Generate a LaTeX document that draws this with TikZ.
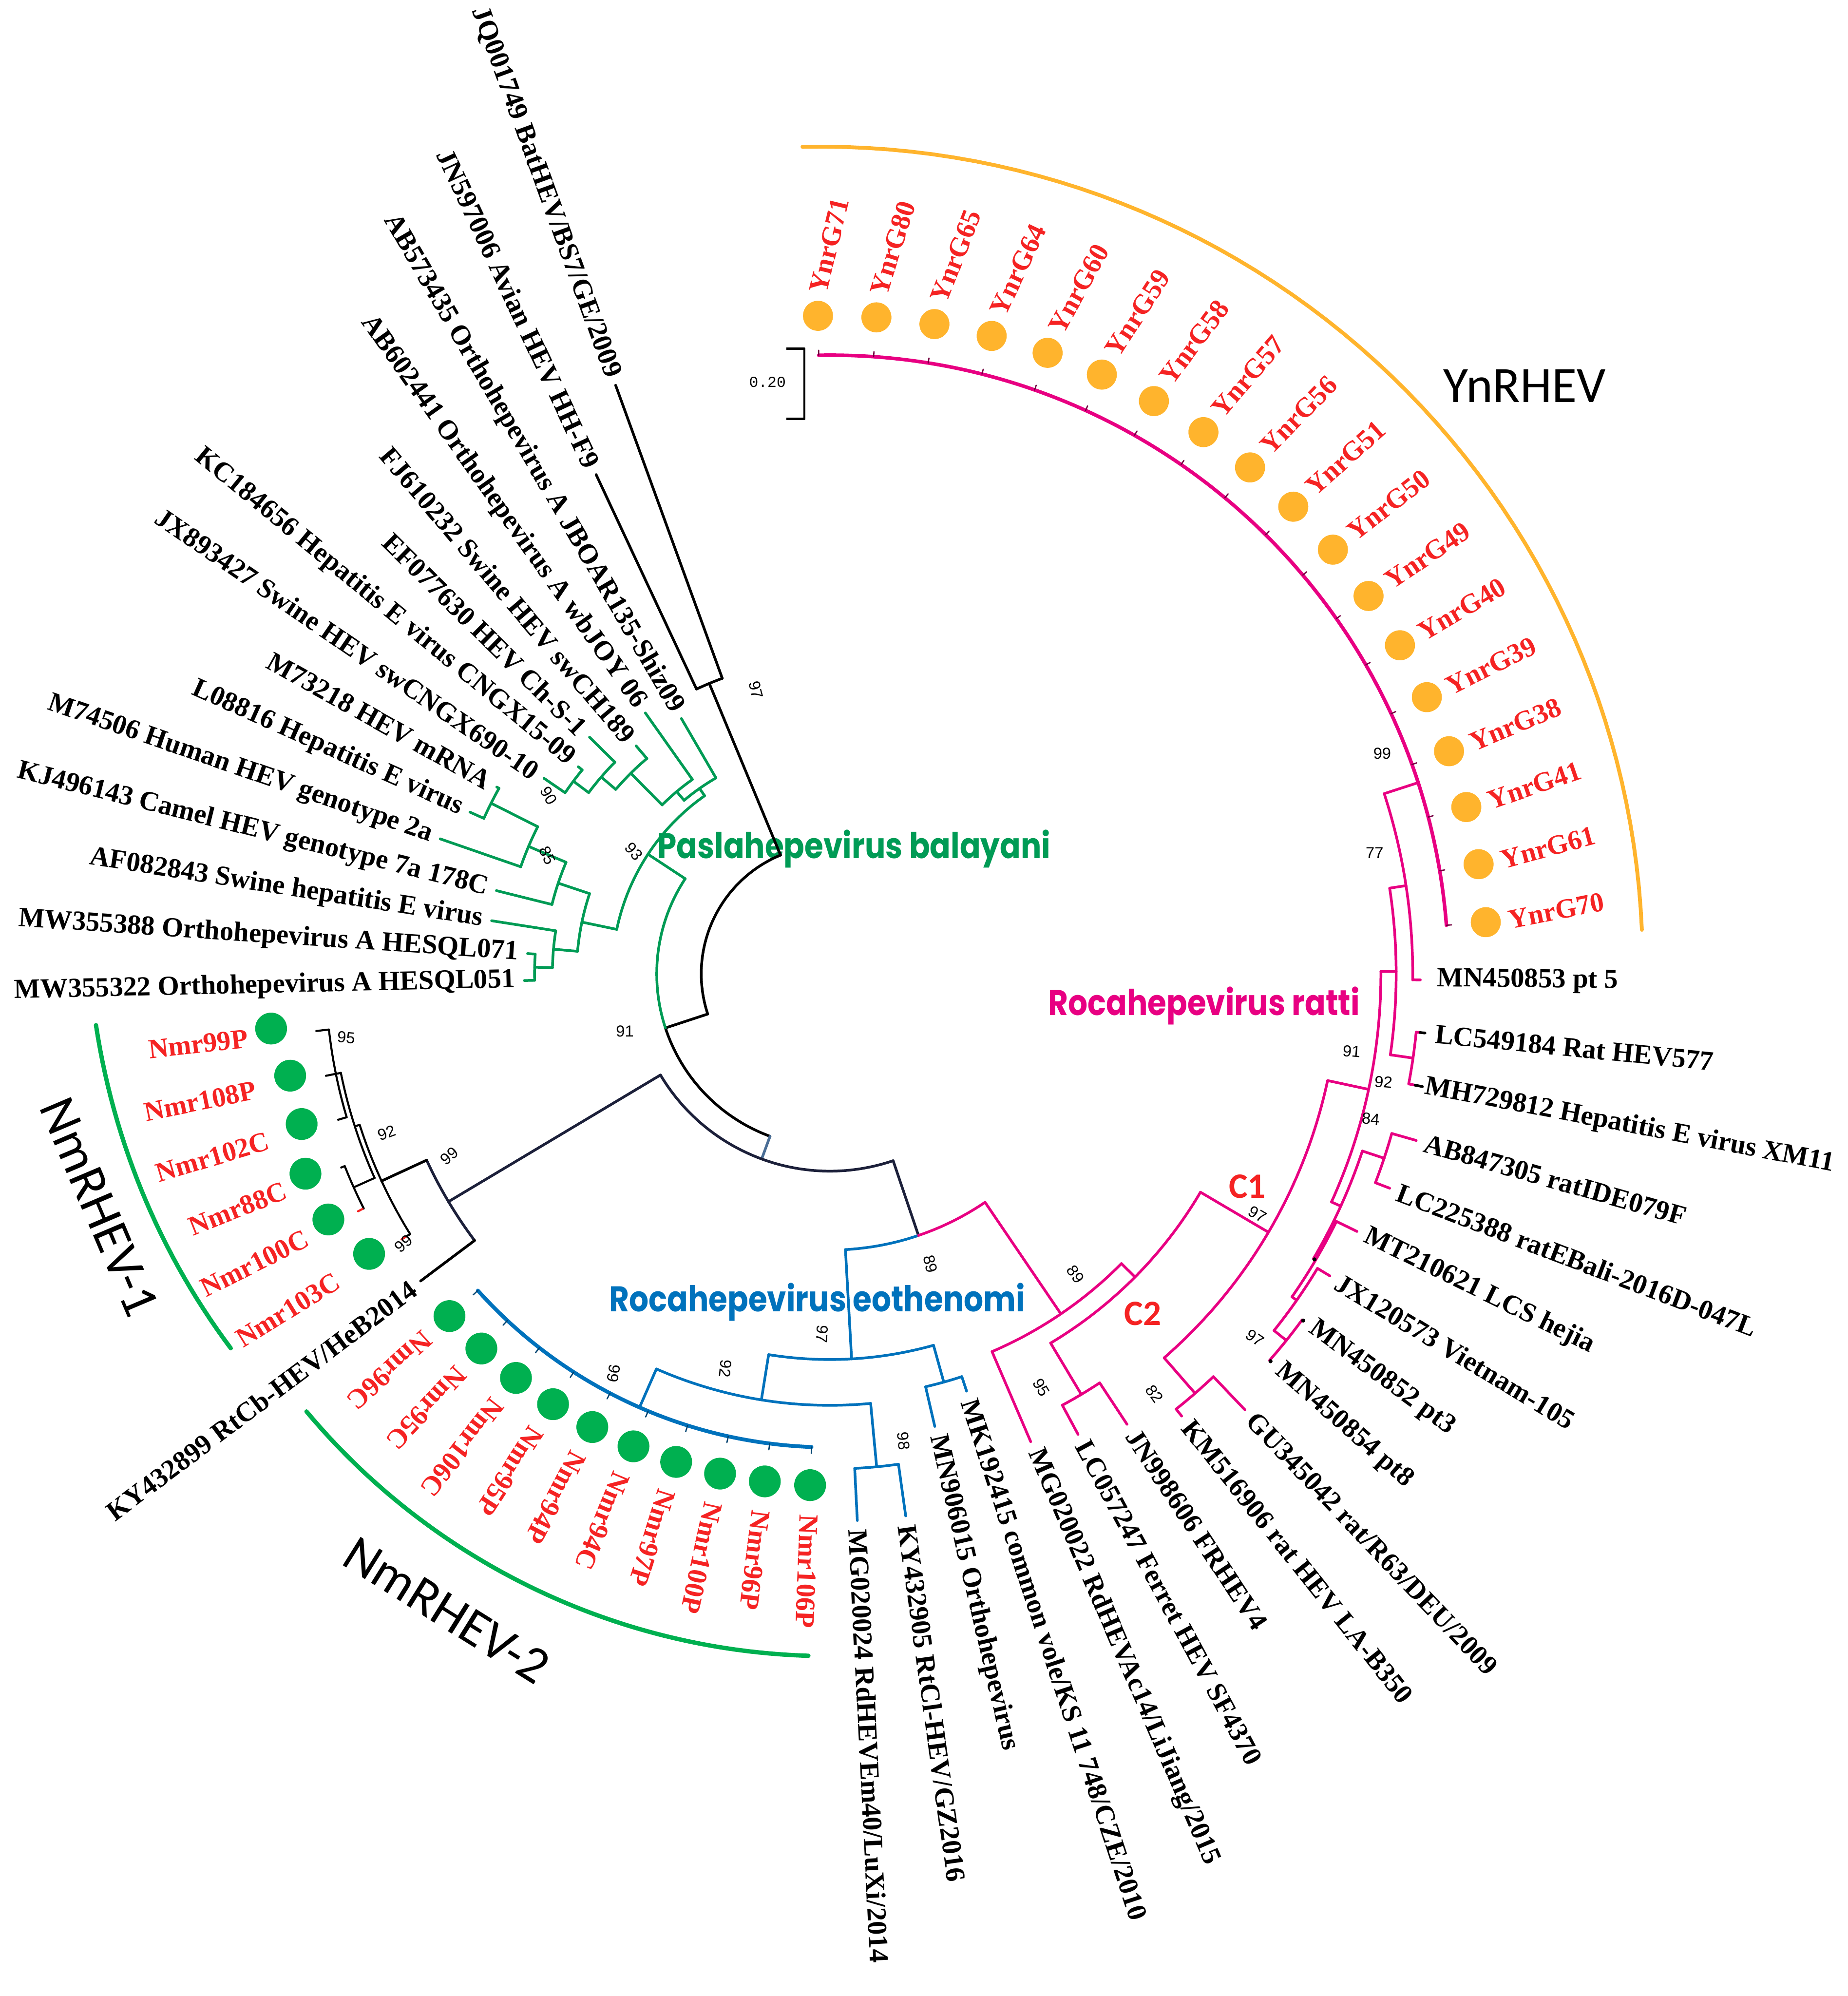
\documentclass[tikz,border=0pt]{standalone}
\usepackage{fontspec}
\setmainfont{Liberation Serif}
\newfontfamily\sansf{Liberation Sans}
\newfontfamily\monof{Liberation Mono}
\newfontfamily\calib{Carlito}
\newfontfamily\popf{Poppins}
\definecolor{pasla}{RGB}{0,155,85}
\definecolor{eoth}{RGB}{0,114,188}
\definecolor{ratti}{RGB}{232,0,130}
\definecolor{navy}{RGB}{28,32,58}
\definecolor{steel}{RGB}{74,110,150}
\definecolor{redlab}{RGB}{245,35,35}
\definecolor{orng}{RGB}{255,180,45}
\definecolor{grn}{RGB}{0,176,80}
\newcommand{\Arc}[4]{\draw[#1] (#2:#4) arc[start angle=#2, end angle=#3, radius=#4];}
\newcommand{\Rad}[4]{\draw[#1] (#2:#3) -- (#2:#4);}
\newcommand{\LLab}[4]{\node[leaf, anchor=east, rotate={#2-180}] (#1) at (#2:#3) {#4};}
\newcommand{\RLab}[4]{\node[leaf, anchor=west, rotate={#2}] (#1) at (#2:#3) {#4};}
\newcommand{\RedL}[5]{\node[leaf, text=redlab, anchor=#5, rotate={#4}] (#1) at (#2:#3) {#1};}
\begin{document}
\begin{tikzpicture}[x=1pt,y=1pt,line cap=round,line join=round,
  leaf/.style={inner sep=0pt, font=\fontsize{21.7}{24}\selectfont\bfseries},
  boot/.style={inner sep=0pt, font=\sansf\fontsize{12.5}{14}\selectfont},
  cladename/.style={inner sep=0pt, xscale=0.86, font=\popf\bfseries\fontsize{28}{30}\selectfont},
  br/.style={line width=2.1pt},
  thin/.style={line width=1.6pt}]
\useasboundingbox (0,0) rectangle (1452,-1568);
\fill[white] (0,0) rectangle (1452,-1568);

% clade names
\node[cladename, text=pasla] (pasname) at (671,-667) {Paslahepevirus balayani};
\node[cladename, text=eoth] (eothname) at (642,-1023) {Rocahepevirus eothenomi};
\node[cladename, text=ratti] (rattiname) at (946,-790) {Rocahepevirus ratti};

\begin{scope}[shift={(652,-765)}]
\coordinate (ctr) at (0,0);
% ---------- root and outgroups (black) ----------
\Arc{br,black}{112.55}{198.22}{101}
\Rad{br,black}{112.55}{101}{247}
\Arc{br,black}{110}{115.09}{247}
\Rad{br,black}{110}{247}{492}
\Rad{br,black}{115.09}{247}{433}
\Rad{br,black}{198.22}{101}{136}
\Arc{br,black}{198.22}{249.79}{136}
\Arc{br,pasla}{146.67}{198.22}{136}
\Rad{br,steel}{249.79}{136}{155}
\Arc{br,navy}{210.85}{288.72}{155}
\Rad{br,navy}{210.85}{155}{349}
\Rad{br,navy}{288.72}{155}{217}
% ---------- Paslahepevirus (green) ----------
\Rad{br,pasla}{146.67}{136}{171}
\Arc{br,pasla}{125.11}{168.22}{171}
\Rad{br,pasla}{125.11}{171}{178}
\Arc{br,pasla}{120.18}{130.04}{178}
\Rad{br,pasla}{120.18}{178}{232}
\Rad{br,pasla}{130.04}{178}{187}
\Arc{br,pasla}{125.27}{134.8}{187}
\Rad{br,pasla}{125.27}{187}{251}
\Rad{br,pasla}{134.8}{187}{222}
\Arc{br,pasla}{130.36}{139.27}{222}
\Rad{br,pasla}{130.36}{222}{235}
\Rad{br,pasla}{139.27}{222}{237}
\Arc{br,pasla}{135.45}{143.09}{237}
\Rad{br,pasla}{135.45}{237}{265}
\Rad{br,pasla}{143.09}{237}{252}
\Arc{br,pasla}{140.54}{145.63}{252}
\Rad{br,pasla}{140.54}{252}{256}
\Rad{br,pasla}{145.63}{252}{272}
\Rad{br,pasla}{168.22}{171}{199}
\Arc{br,pasla}{161.54}{174.9}{199}
\Rad{br,pasla}{161.54}{199}{225}
\Arc{br,pasla}{157.08}{165.99}{225}
\Rad{br,pasla}{165.99}{225}{270}
\Rad{br,pasla}{157.08}{225}{257}
\Arc{br,pasla}{153.27}{160.9}{257}
\Rad{br,pasla}{160.9}{257}{324}
\Rad{br,pasla}{153.27}{257}{298}
\Arc{br,pasla}{150.72}{155.81}{298}
\Rad{br,pasla}{150.72}{298}{300}
\Rad{br,pasla}{155.81}{298}{310}
\Rad{br,pasla}{174.9}{199}{218}
\Arc{br,pasla}{171.08}{178.72}{218}
\Rad{br,pasla}{171.08}{218}{269}
\Rad{br,pasla}{178.72}{218}{232}
\Arc{br,pasla}{176.17}{181.26}{232}
\Rad{br,pasla}{176.17}{232}{238}
\Rad{br,pasla}{181.26}{232}{240}
% ---------- NmRHEV-1 group (black) ----------
\Arc{br,navy}{204.8}{216.89}{349}
\Rad{br,black}{216.89}{349}{402}
\Rad{br,black}{204.8}{349}{388}
\Arc{thin,black}{197.8}{211.8}{388}
\Rad{thin,black}{211.8}{388}{392}
\Rad{thin,redlab}{211.8}{392}{396}
\Rad{thin,black}{197.8}{388}{392}
\Arc{thin,black}{191.45}{204.15}{392}
\Rad{thin,black}{191.45}{392}{396}
\Arc{thin,black}{186.35}{196.53}{396}
\Rad{thin,black}{186.35}{396}{406}
\Rad{thin,black}{191.44}{396}{404}
\Rad{thin,black}{196.53}{396}{403}
\Rad{thin,black}{204.15}{392}{410}
\Arc{thin,black}{201.62}{206.71}{410}
\Rad{thin,black}{201.62}{410}{413}
\Rad{thin,black}{206.71}{410}{411}
\Rad{thin,redlab}{206.71}{411}{415}
% ---------- Rocahepevirus eothenomi (blue) ----------
\Arc{br,eoth}{273.24}{288.72}{217}
\Rad{br,eoth}{273.24}{217}{303}
\Arc{br,eoth}{260.87}{285.6}{303}
\Rad{br,eoth}{260.87}{303}{339}
\Arc{br,eoth}{246.3}{275.43}{339}
\Rad{br,eoth}{246.3}{339}{372}
\Arc{line width=3pt,eoth}{221.98}{267.79}{372}
\foreach \a in {221.98,227.07,232.16,237.25,242.34,247.43,252.52,257.61,262.7,267.79}
  {\draw[line width=1pt,eoth!60!black] (\a:372) -- (\a:377);}
\Rad{br,eoth}{275.43}{339}{389}
\Arc{br,eoth}{272.88}{277.97}{389}
\Rad{br,eoth}{272.88}{389}{430}
\Rad{br,eoth}{277.97}{389}{430}
\Rad{br,eoth}{285.6}{303}{333}
\Arc{br,eoth}{283.06}{288.15}{333}
\Rad{br,eoth}{283.06}{333}{365}
\Rad{br,eoth}{288.15}{333}{345}
% ---------- Rocahepevirus ratti (pink) ----------
\Arc{br,ratti}{288.72}{304.2}{217}
\Rad{br,ratti}{304.2}{217}{323}
\Arc{br,ratti}{293.24}{315.19}{323}
\Rad{br,ratti}{293.24}{323}{400}
\Rad{br,ratti}{315.19}{323}{338}
\Arc{br,ratti}{300.88}{329.5}{338}
\Rad{br,ratti}{300.88}{338}{385}
\Arc{br,ratti}{298.33}{303.42}{385}
\Rad{br,ratti}{298.33}{385}{411}
\Rad{br,ratti}{303.42}{385}{424}
\Rad{br,ratti}{329.5}{338}{400}
\Arc{br,ratti}{311.05}{347.9}{400}
\Rad{br,ratti}{311.05}{400}{437}
\Arc{br,ratti}{308.51}{313.6}{437}
\Rad{br,ratti}{308.51}{437}{444}
\Rad{br,ratti}{313.6}{437}{473}
\Rad{br,ratti}{347.9}{400}{433}
\Arc{br,ratti}{335.55}{360.24}{433}
\Rad{br,ratti}{335.55}{433}{441}
\Arc{br,ratti}{329.5}{341.6}{441}
\Rad{br,ratti}{329.5}{441}{443}
\Arc{br,ratti}{325.05}{333.96}{443}
\Rad{br,ratti}{333.96}{443}{461}
\Rad{br,ratti}{325.05}{443}{447.6}
\Arc{br,ratti}{321.24}{328.87}{447.6}
\Rad{br,ratti}{328.87}{447.6}{459}
\Rad{br,ratti}{321.24}{447.6}{460}
\Arc{br,ratti}{318.69}{323.78}{460}
\fill[black] (318.69:461) circle[radius=1.6];
\fill[black] (323.78:461) circle[radius=1.6];
\fill[black] (329.5:442) circle[radius=1.6];
\Rad{br,ratti}{341.6}{441}{459}
\Arc{br,ratti}{339.05}{344.14}{459}
\Rad{br,ratti}{339.05}{459}{471}
\Rad{br,ratti}{344.14}{459}{479}
\Rad{br,ratti}{360.24}{433}{445}
\Arc{br,ratti}{351.78}{368.7}{445}
\Rad{br,ratti}{351.78}{445}{463}
\Arc{br,ratti}{349.23}{354.32}{463}
\Rad{br,ratti}{349.23}{463}{468}
\Rad{br,black}{349.23}{468}{474}
\Rad{br,ratti}{354.32}{463}{466}
\Rad{br,black}{354.32}{466}{470}
\Rad{br,ratti}{368.7}{445}{458}
\Arc{br,ratti}{359.41}{378}{458}
\Rad{br,ratti}{359.41}{458}{464}
\Rad{br,ratti}{378}{458}{486}
\Arc{line width=2.8pt,ratti}{364.5}{451.03}{486}
\foreach \a in {364.5,369.59,374.68,379.77,384.86,389.95,395.04,400.13,405.22,410.31,415.4,420.49,425.58,430.67,435.76,440.85,445.94,451.03}
  {\draw[line width=1pt,ratti!50!black] (\a:486) -- (\a:490);}

% ---------- overlay arcs ----------
\draw[line width=3pt, orng] plot[domain=3.1:91.9, samples=60] ({\x}:{639+(\x-3.1)*0.124});
\draw[line width=3.4pt, grn] plot[domain=184:212, samples=30] ({\x}:{578-(\x-184)*0.82});
\Arc{line width=3.4pt,grn}{219.9}{268.2}{536}

% ---------- dots ----------
\foreach \a in {364.5,369.59,374.68,379.77,384.86,389.95,395.04,400.13,405.22,410.31,415.4,420.49,425.58,430.67,435.76,440.85,445.94,451.03}
  {\fill[orng] (\a:517) circle[radius=11.8];}
\foreach \a in {221.98,227.07,232.16,237.25,242.34,247.43,252.52,257.61,262.7,267.79}
  {\fill[grn] (\a:402) circle[radius=12.5];}

% ---------- black leaf labels ----------
\LLab{l0}{110}{499}{JQ001749 BatHEV/BS7/GE/2009}
\LLab{l1}{115.09}{440}{JN597006 Avian HEV HH-F9}
\LLab{l2}{120.18}{239}{AB573435 Orthohepevirus A JBOAR135-Shiz09}
\LLab{l3}{125.27}{258}{AB602441 Orthohepevirus A wbJOY 06}
\LLab{l4}{130.36}{242}{FJ610232 Swine HEV swCH189}
\LLab{l5}{135.45}{272}{EF077630 HEV Ch-S-1}
\LLab{l6}{140.54}{263}{KC184656 Hepatitis E virus CNGX15-09}
\LLab{l7}{145.63}{279}{JX893427 Swine HEV swCNGX690-10}
\LLab{l8}{150.72}{307}{M73218 HEV mRNA}
\LLab{l9}{155.81}{317}{L08816 Hepatitis E virus}
\LLab{l10}{160.9}{331}{M74506 Human HEV genotype 2a}
\LLab{l11}{165.99}{277}{KJ496143 Camel HEV genotype 7a 178C}
\LLab{l12}{171.08}{276}{AF082843 Swine hepatitis E virus}
\LLab{l13}{176.17}{245}{MW355388 Orthohepevirus A HESQL071}
\LLab{l14}{181.26}{247}{MW355322 Orthohepevirus A HESQL051}
\LLab{l21}{216.89}{409}{KY432899 RtCb-HEV/HeB2014}
\RLab{l32}{272.88}{437}{MG020024 RdHEVEm40/LuXi/2014}
\RLab{l33}{277.97}{437}{KY432905 RtCl-HEV/GZ2016}
\RLab{l34}{283.06}{372}{MN906015 Orthohepevirus}
\RLab{l35}{288.15}{352}{MK192415 common vole/KS 11 748/CZE/2010}
\RLab{l36}{293.24}{407}{MG020022 RdHEVAc14/LiJiang/2015}
\RLab{l37}{298.33}{418}{LC057247 Ferret HEV SF4370}
\RLab{l38}{303.42}{431}{JN998606 FRHEV4}
\RLab{l39}{308.51}{451}{KM516906 rat HEV LA-B350}
\RLab{l40}{313.6}{480}{GU345042 rat/R63/DEU/2009}
\RLab{l41}{318.69}{469}{MN450854 pt8}
\RLab{l42}{323.78}{469}{MN450852 pt3}
\RLab{l43}{328.87}{466}{JX120573 Vietnam-105}
\RLab{l44}{333.96}{468}{MT210621 LCS hejia}
\RLab{l45}{339.05}{478}{LC225388 ratEBali-2016D-047L}
\RLab{l46}{344.14}{486}{AB847305 ratIDE079F}
\RLab{l47}{349.23}{476}{MH729812 Hepatitis E virus XM11}
\RLab{l48}{354.32}{478}{LC549184 Rat HEV577}
\RLab{l49}{359.41}{477}{MN450853 pt 5}

% ---------- red labels ----------
\RedL{Nmr99P}{186.35}{460}{6.35}{east}
\RedL{Nmr108P}{191.44}{460}{11.44}{east}
\RedL{Nmr102C}{196.53}{460}{16.53}{east}
\RedL{Nmr88C}{201.62}{460}{21.62}{east}
\RedL{Nmr100C}{206.71}{460}{26.71}{east}
\RedL{Nmr103C}{211.8}{455}{31.8}{east}
\RedL{Nmr96C}{221.98}{425}{221.98}{west}
\RedL{Nmr95C}{227.07}{425}{227.07}{west}
\RedL{Nmr106C}{232.16}{425}{232.16}{west}
\RedL{Nmr95P}{237.25}{425}{237.25}{west}
\RedL{Nmr94P}{242.34}{425}{242.34}{west}
\RedL{Nmr94C}{247.43}{425}{247.43}{west}
\RedL{Nmr97P}{252.52}{425}{252.52}{west}
\RedL{Nmr100P}{257.61}{425}{257.61}{west}
\RedL{Nmr96P}{262.7}{425}{262.7}{west}
\RedL{Nmr106P}{267.79}{425}{267.79}{west}
\RedL{YnrG70}{364.5}{535}{11.4}{west}
\RedL{YnrG61}{369.59}{535}{15.2}{west}
\RedL{YnrG41}{374.68}{535}{19}{west}
\RedL{YnrG38}{379.77}{535}{22.8}{west}
\RedL{YnrG39}{384.86}{535}{26.6}{west}
\RedL{YnrG40}{389.95}{535}{30.5}{west}
\RedL{YnrG49}{395.04}{535}{34.3}{west}
\RedL{YnrG50}{400.13}{535}{38.1}{west}
\RedL{YnrG51}{405.22}{535}{41.9}{west}
\RedL{YnrG56}{410.31}{535}{45.7}{west}
\RedL{YnrG57}{415.4}{535}{49.6}{west}
\RedL{YnrG58}{420.49}{535}{53.4}{west}
\RedL{YnrG59}{425.58}{535}{57.2}{west}
\RedL{YnrG60}{430.67}{535}{61}{west}
\RedL{YnrG64}{435.76}{535}{64.8}{west}
\RedL{YnrG65}{440.85}{535}{68.6}{west}
\RedL{YnrG80}{445.94}{535}{72.5}{west}
\RedL{YnrG71}{451.03}{535}{76.3}{west}
\end{scope}

% NmRHEV-1 dots
\fill[grn] (213,-808) circle[radius=12.5];
\fill[grn] (228,-845) circle[radius=12.5];
\fill[grn] (237,-883) circle[radius=12.5];
\fill[grn] (240,-922) circle[radius=12.5];
\fill[grn] (258,-958) circle[radius=12.5];
\fill[grn] (290,-985) circle[radius=12.5];

% group names
\node[font=\calib\fontsize{40}{44}\selectfont, inner sep=0pt] (ynr) at (1198,-303) {YnRHEV};
\node[font=\calib\fontsize{41}{44}\selectfont, inner sep=0pt, rotate=-67] (nm1) at (78,-948) {NmRHEV-1};
\node[font=\calib\fontsize{41}{44}\selectfont, inner sep=0pt, rotate=-32] (nm2) at (351,-1265) {NmRHEV-2};
\node[font=\calib\bfseries\fontsize{28}{30}\selectfont, text=redlab, inner sep=0pt] (c1) at (980,-932) {C1};
\node[font=\calib\bfseries\fontsize{28}{30}\selectfont, text=redlab, inner sep=0pt] (c2) at (898,-1032) {C2};

% bootstrap values
\node[boot, rotate=-75] (b1) at (594,-542) {97};
\node[boot, rotate=-50] (b2) at (498,-669) {93};
\node[boot, rotate=-60] (b3) at (431,-625) {90};
\node[boot, rotate=-65] (b4) at (430,-672) {85};
\node[boot] (b5) at (491,-810) {91};
\node[boot, rotate=-5] (b6) at (272,-815) {95};
\node[boot, rotate=20] (b7) at (304,-890) {92};
\node[boot, rotate=40] (b8) at (353,-908) {99};
\node[boot, rotate=40] (b9) at (317,-977) {99};
\node[boot, rotate=-100] (b10) at (482,-1079) {99};
\node[boot, rotate=-95] (b11) at (570,-1075) {92};
\node[boot, rotate=-95] (b12) at (646,-1048) {97};
\node[boot, rotate=-85] (b13) at (710,-1132) {98};
\node[boot, rotate=-75] (b14) at (731,-993) {89};
\node[boot, rotate=-55] (b15) at (845,-1001) {89};
\node[boot, rotate=-60] (b16) at (818,-1090) {95};
\node[boot, rotate=-55] (b17) at (907,-1095) {82};
\node[boot, rotate=-30] (b18) at (988,-954) {97};
\node[boot, rotate=-35] (b19) at (986,-1051) {97};
\node[boot, rotate=-5] (b20) at (1062,-826) {91};
\node[boot, rotate=-5] (b21) at (1087,-850) {92};
\node[boot, rotate=-5] (b22) at (1077,-879) {84};
\node[boot] (b23) at (1080,-670) {77};
\node[boot] (b24) at (1086,-592) {99};

% scale bar
\draw[line width=1.8pt, line cap=butt] (618,-274) -- (632,-274) -- (632,-329) -- (618,-329);
\node[font=\monof\fontsize{12}{14}\selectfont, inner sep=0pt] (sb) at (603,-300) {0.20};
\end{tikzpicture}
\end{document}
